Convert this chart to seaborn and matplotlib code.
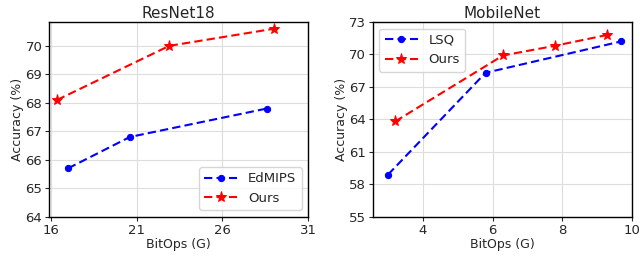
import matplotlib
matplotlib.use('Agg')
import matplotlib.pyplot as plt
import seaborn as sns
import pandas as pd

# --- dados ---
resnet_edmips_x = [17.0, 20.6, 28.6]
resnet_edmips_y = [65.7, 66.8, 67.8]
resnet_ours_x = [16.35, 22.9, 29.0]
resnet_ours_y = [68.1, 70.0, 70.6]

mobile_lsq_x = [3.0, 5.8, 9.7]
mobile_lsq_y = [58.9, 68.3, 71.2]
mobile_ours_x = [3.2, 6.3, 7.8, 9.3]
mobile_ours_y = [63.8, 69.9, 70.8, 71.8]

resnet_xticks = [16, 21, 26, 31]
resnet_yticks = [64, 65, 66, 67, 68, 69, 70]
mobile_xticks = [4, 6, 8, 10]
mobile_yticks = [55, 58, 61, 64, 67, 70, 73]

sns.set_style('whitegrid', {'axes.edgecolor': 'black', 'grid.color': '#dddddd'})
plt.rcParams['font.family'] = ['DejaVu Sans']
plt.rcParams['font.size'] = 9

fig, axes = plt.subplots(1, 2, figsize=(6.4, 2.58), dpi=100)
fig.subplots_adjust(left=0.077, right=0.987, top=0.915, bottom=0.16, wspace=0.25)


def draw(ax, x1, y1, lab1, x2, y2, title, xticks, yticks, xlim, ylim, loc):
    sns.lineplot(x=x1, y=y1, ax=ax, color='blue', linestyle='--', marker='o',
                 markersize=4.5, markeredgecolor='blue', linewidth=1.5, label=lab1)
    sns.lineplot(x=x2, y=y2, ax=ax, color='red', linestyle='--', marker='*',
                 markersize=8, markeredgecolor='red', linewidth=1.5, label='Ours')
    ax.lines[0].set_dashes([4, 2])
    ax.lines[1].set_dashes([4, 2])
    ax.set_title(title, fontsize=11, pad=3)
    ax.set_xlabel('BitOps (G)', fontsize=9, labelpad=1)
    ax.set_ylabel('Accuracy (%)', fontsize=9, labelpad=1)
    ax.set_xticks(xticks)
    ax.set_yticks(yticks)
    ax.set_xlim(*xlim)
    ax.set_ylim(*ylim)
    ax.tick_params(labelsize=9.5, length=3, pad=2, left=True, bottom=True)
    for sp in ax.spines.values():
        sp.set_linewidth(1.0)
    leg = ax.legend(loc=loc, fontsize=9.5, handlelength=2.5, frameon=True)
    leg.get_frame().set_edgecolor('#cccccc')
    for h in leg.legend_handles:
        h.set_dashes([4, 2])


draw(axes[0], resnet_edmips_x, resnet_edmips_y, 'EdMIPS', resnet_ours_x, resnet_ours_y,
     'ResNet18', resnet_xticks, resnet_yticks, (15.9, 31), (64, 70.84), 'lower right')
draw(axes[1], mobile_lsq_x, mobile_lsq_y, 'LSQ', mobile_ours_x, mobile_ours_y,
     'MobileNet', mobile_xticks, mobile_yticks, (2.56, 10), (55, 73), 'upper left')

plt.savefig('out.png', dpi=100)
